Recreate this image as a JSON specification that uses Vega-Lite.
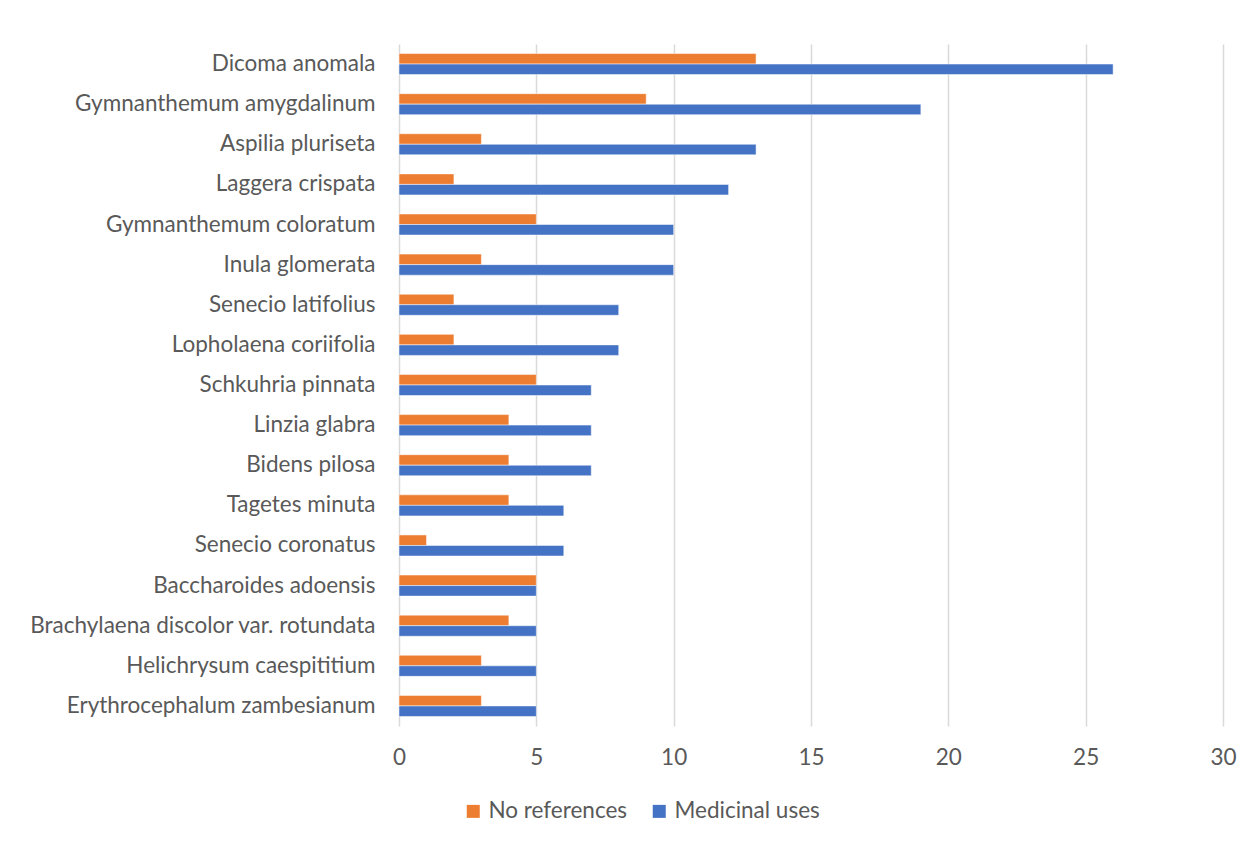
{
  "$schema": "https://vega.github.io/schema/vega-lite/v6.json",
  "width": 824,
  "height": 682,
  "autosize": "none",
  "padding": {"left": 399, "top": 44, "right": 27, "bottom": 116},
  "background": "white",
  "config": {
    "font": "Lato",
    "view": {"stroke": null},
    "scale": {"offsetBandPaddingInner": 0, "offsetBandPaddingOuter": 0}
  },
  "data": {
    "values": [
      {"species": "Dicoma anomala", "series": "No references", "value": 13},
      {"species": "Dicoma anomala", "series": "Medicinal uses", "value": 26},
      {"species": "Gymnanthemum amygdalinum", "series": "No references", "value": 9},
      {"species": "Gymnanthemum amygdalinum", "series": "Medicinal uses", "value": 19},
      {"species": "Aspilia pluriseta", "series": "No references", "value": 3},
      {"species": "Aspilia pluriseta", "series": "Medicinal uses", "value": 13},
      {"species": "Laggera crispata", "series": "No references", "value": 2},
      {"species": "Laggera crispata", "series": "Medicinal uses", "value": 12},
      {"species": "Gymnanthemum coloratum", "series": "No references", "value": 5},
      {"species": "Gymnanthemum coloratum", "series": "Medicinal uses", "value": 10},
      {"species": "Inula glomerata", "series": "No references", "value": 3},
      {"species": "Inula glomerata", "series": "Medicinal uses", "value": 10},
      {"species": "Senecio latifolius", "series": "No references", "value": 2},
      {"species": "Senecio latifolius", "series": "Medicinal uses", "value": 8},
      {"species": "Lopholaena coriifolia", "series": "No references", "value": 2},
      {"species": "Lopholaena coriifolia", "series": "Medicinal uses", "value": 8},
      {"species": "Schkuhria pinnata", "series": "No references", "value": 5},
      {"species": "Schkuhria pinnata", "series": "Medicinal uses", "value": 7},
      {"species": "Linzia glabra", "series": "No references", "value": 4},
      {"species": "Linzia glabra", "series": "Medicinal uses", "value": 7},
      {"species": "Bidens pilosa", "series": "No references", "value": 4},
      {"species": "Bidens pilosa", "series": "Medicinal uses", "value": 7},
      {"species": "Tagetes minuta", "series": "No references", "value": 4},
      {"species": "Tagetes minuta", "series": "Medicinal uses", "value": 6},
      {"species": "Senecio coronatus", "series": "No references", "value": 1},
      {"species": "Senecio coronatus", "series": "Medicinal uses", "value": 6},
      {"species": "Baccharoides adoensis", "series": "No references", "value": 5},
      {"species": "Baccharoides adoensis", "series": "Medicinal uses", "value": 5},
      {"species": "Brachylaena discolor var. rotundata", "series": "No references", "value": 4},
      {"species": "Brachylaena discolor var. rotundata", "series": "Medicinal uses", "value": 5},
      {"species": "Helichrysum caespititium", "series": "No references", "value": 3},
      {"species": "Helichrysum caespititium", "series": "Medicinal uses", "value": 5},
      {"species": "Erythrocephalum zambesianum", "series": "No references", "value": 3},
      {"species": "Erythrocephalum zambesianum", "series": "Medicinal uses", "value": 5}
    ]
  },
  "mark": {"type": "bar", "stroke": "white", "strokeWidth": 0.5},
  "encoding": {
    "y": {
      "field": "species",
      "type": "nominal",
      "sort": null,
      "title": null,
      "scale": {"paddingInner": 0.475, "paddingOuter": 0.2375},
      "axis": {"domain": false, "ticks": false, "labelFontSize": 22.5, "labelColor": "#595959", "labelPadding": 24, "labelLimit": 400}
    },
    "yOffset": {"field": "series", "type": "nominal", "sort": ["No references", "Medicinal uses"], "scale": {"paddingInner": 0, "paddingOuter": 0}},
    "x": {
      "field": "value",
      "type": "quantitative",
      "title": null,
      "scale": {"domain": [0, 30], "nice": false},
      "axis": {"values": [0, 5, 10, 15, 20, 25, 30], "labelFlush": false, "domain": false, "ticks": false, "grid": true, "gridColor": "#d9d9d9", "gridWidth": 1.5, "labelFontSize": 22.5, "labelColor": "#595959", "labelPadding": 20}
    },
    "color": {
      "field": "series",
      "type": "nominal",
      "sort": ["No references", "Medicinal uses"],
      "scale": {"domain": ["No references", "Medicinal uses"], "range": ["#ED7D31", "#4472C4"]},
      "legend": {
        "title": null,
        "orient": "none",
        "direction": "horizontal",
        "legendX": 63,
        "legendY": 756,
        "symbolType": "square",
        "symbolSize": 169,
        "symbolStrokeWidth": 0,
        "labelFontSize": 22.5,
        "labelColor": "#595959",
        "labelOffset": 4,
        "columnPadding": 20
      }
    }
  }
}
